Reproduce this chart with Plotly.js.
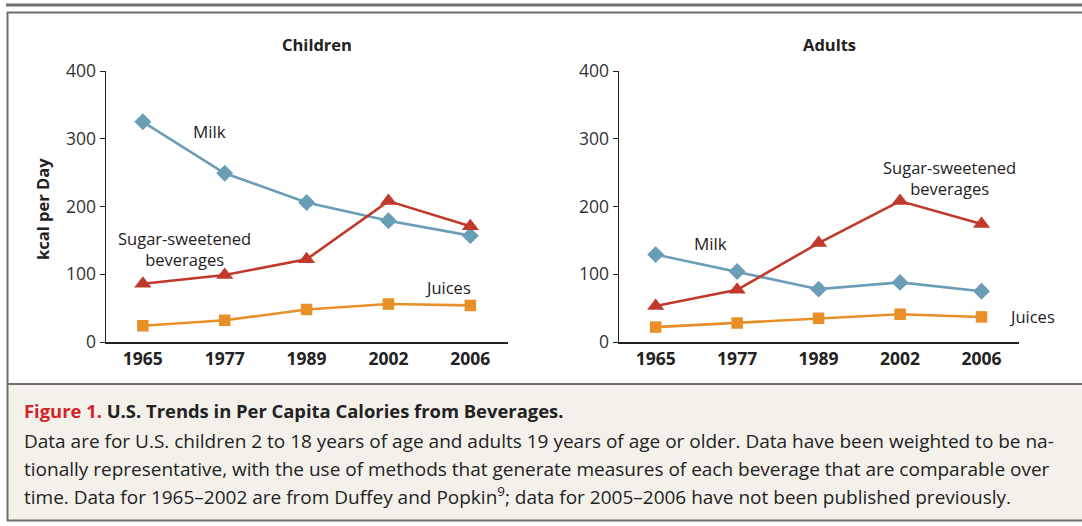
<!DOCTYPE html>
<html><head><meta charset="utf-8">
<script src="https://cdn.plot.ly/plotly-3.0.1.min.js"></script>
<style>html,body{margin:0;padding:0;background:#fff;}#chart{width:1082px;height:526px;}</style>
</head><body><div id="chart"></div>
<script>
const years = ['1965','1977','1989','2002','2006'];
const childMilk = [325, 249, 206, 179, 157];
const childSugar = [86, 99, 122, 208, 171];
const childJuices = [24, 32, 48, 56, 54];
const adultMilk = [129, 104, 78, 88, 75];
const adultSugar = [53, 77, 146, 208, 174];
const adultJuices = [22, 28, 35, 41, 37];
const yTicks = [0, 100, 200, 300, 400];

const W = 1082, H = 526;
const px = x => x / W;
const py = y => 1 - y / H;
const FONT = '"Open Sans", "Noto Sans", sans-serif';
const C_MILK = '#6a9db6', C_SUGAR = '#c0392b', C_JUICE = '#e88f27';

function series(x, y, color, sym, size, xa, ya) {
  return {x: x, y: y, type: 'scatter', mode: 'lines+markers', xaxis: xa, yaxis: ya,
    line: {color: color, width: 2.6}, marker: {symbol: sym, size: size, color: color},
    hoverinfo: 'skip', showlegend: false, cliponaxis: false};
}
const data = [
  series(years, childMilk, C_MILK, 'diamond', 13, 'x', 'y'),
  series(years, childSugar, C_SUGAR, 'triangle-up', 15, 'x', 'y'),
  series(years, childJuices, C_JUICE, 'square', 11.5, 'x', 'y'),
  series(years, adultMilk, C_MILK, 'diamond', 13, 'x2', 'y2'),
  series(years, adultSugar, C_SUGAR, 'triangle-up', 15, 'x2', 'y2'),
  series(years, adultJuices, C_JUICE, 'square', 11.5, 'x2', 'y2')
];

const xBase = {type: 'category', range: [-0.45, 4.46], showgrid: false, zeroline: false,
  showline: true, linecolor: '#222', linewidth: 1.5, ticks: '', fixedrange: true,
  tickfont: {family: FONT, size: 17.5, color: '#222', weight: 'bold'}, ticklen: 0};
const yBase = {range: [0, 400], tickvals: yTicks, showgrid: false, zeroline: false,
  showline: true, linecolor: '#222', linewidth: 1.5, ticks: 'outside', ticklen: 5, tickcolor: '#222',
  tickfont: {family: FONT, size: 17.5, color: '#333'}, fixedrange: true,
  domain: [py(342), py(71)]};

const ann = [];
function A(text, x, y, opts) {
  ann.push(Object.assign({text: text, x: px(x), y: py(y), xref: 'paper', yref: 'paper',
    showarrow: false, xanchor: 'center', yanchor: 'middle',
    font: {family: FONT, size: 16.5, color: '#222'}}, opts || {}));
}
A('<b>Children</b>', 317, 44, {font: {family: FONT, size: 16.5, color: '#222'}});
A('<b>Adults</b>', 829, 44, {font: {family: FONT, size: 16.5, color: '#222'}});
A('<b>kcal per Day</b>', 42, 209, {textangle: -90, font: {family: FONT, size: 16.5, color: '#222'}});
A('Milk', 209, 132, {font: {family: FONT, size: 17, color: '#222'}});
A('Sugar-sweetened<br>beverages', 184, 249, {align: 'center'});
A('Juices', 448, 287);
A('Milk', 710, 243, {font: {family: FONT, size: 17, color: '#222'}});
A('Sugar-sweetened<br>beverages', 949, 178, {align: 'center'});
A('Juices', 1032, 316);
A('<span style="color:#d2232a">Figure 1.</span> U.S. Trends in Per Capita Calories from Beverages.', 22, 410,
  {xanchor: 'left', font: {family: FONT, size: 18.4, color: '#222', weight: 'bold'}});
const body = ['Data are for U.S. children 2 to 18 years of age and adults 19 years of age or older. Data have been weighted to be na-',
  'tionally representative, with the use of methods that generate measures of each beverage that are comparable over',
  'time. Data for 1965\u20132002 are from Duffey and Popkin<sup>9</sup>; data for 2005\u20132006 have not been published previously.'];
body.forEach((t, i) => A(t, 22, 441 + i * 27.5, {xanchor: 'left', font: {family: FONT, size: 19, color: '#222'}}));

const shapes = [
  {type: 'rect', xref: 'paper', yref: 'paper', x0: px(8), x1: px(1083), y0: py(520), y1: py(384),
    fillcolor: '#f4f1eb', line: {width: 0}, layer: 'below'},
  {type: 'line', xref: 'paper', yref: 'paper', x0: px(6), x1: px(1082), y0: py(5), y1: py(5), line: {color: '#6e6e6e', width: 3}},
  {type: 'line', xref: 'paper', yref: 'paper', x0: px(7), x1: px(1082), y0: py(12.5), y1: py(12.5), line: {color: '#6e6e6e', width: 2}},
  {type: 'line', xref: 'paper', yref: 'paper', x0: px(7.5), x1: px(7.5), y0: py(12), y1: py(521), line: {color: '#6e6e6e', width: 2}},
  {type: 'line', xref: 'paper', yref: 'paper', x0: px(7), x1: px(1082), y0: py(384), y1: py(384), line: {color: '#6e6e6e', width: 2}},
  {type: 'line', xref: 'paper', yref: 'paper', x0: px(7), x1: px(1082), y0: py(520.5), y1: py(520.5), line: {color: '#6e6e6e', width: 2}}
];

const layout = {
  width: W, height: H, margin: {l: 0, r: 0, t: 0, b: 0},
  paper_bgcolor: '#fff', plot_bgcolor: 'rgba(0,0,0,0)',
  font: {family: FONT},
  xaxis: Object.assign({}, xBase, {domain: [px(106), px(508)], anchor: 'y'}),
  yaxis: Object.assign({}, yBase, {anchor: 'x'}),
  xaxis2: Object.assign({}, xBase, {domain: [px(619), px(1019)], anchor: 'y2'}),
  yaxis2: Object.assign({}, yBase, {anchor: 'x2'}),
  annotations: ann, shapes: shapes
};
Plotly.newPlot('chart', data, layout, {displayModeBar: false, staticPlot: true});
</script></body></html>
